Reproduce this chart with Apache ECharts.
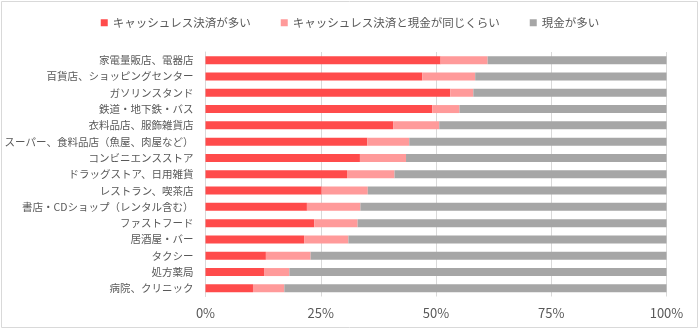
<!DOCTYPE html>
<html>
<head>
<meta charset="utf-8">
<script src="https://cdn.jsdelivr.net/npm/echarts@6/dist/echarts.min.js"></script>
<style>
  html, body { margin: 0; padding: 0; background: #fff; }
  #chart { width: 700px; height: 330px; }
</style>
</head>
<body>
<div id="chart"></div>
<script>
// Payment preference by type of shop (share of respondents, %)
const categories = [
  '家電量販店、電器店',
  '百貨店、ショッピングセンター',
  'ガソリンスタンド',
  '鉄道・地下鉄・バス',
  '衣料品店、服飾雑貨店',
  'スーパー、食料品店（魚屋、肉屋など）',
  'コンビニエンスストア',
  'ドラッグストア、日用雑貨',
  'レストラン、喫茶店',
  '書店・CDショップ（レンタル含む）',
  'ファストフード',
  '居酒屋・バー',
  'タクシー',
  '処方薬局',
  '病院、クリニック'
];
const seriesNames = ['キャッシュレス決済が多い', 'キャッシュレス決済と現金が同じくらい', '現金が多い'];
const cashlessMore = [51.0, 47.0, 53.1, 49.2, 40.7, 35.1, 33.5, 30.7, 25.2, 22.0, 23.6, 21.4, 13.1, 12.8, 10.3];
const aboutEqual   = [10.2, 11.5, 5.0, 5.9, 10.0, 9.1, 10.0, 10.3, 10.0, 11.6, 9.4, 9.6, 9.7, 5.4, 6.8];
const cashMore     = [38.8, 41.5, 41.9, 44.9, 49.3, 55.8, 56.5, 59.0, 64.8, 66.4, 67.0, 69.0, 77.2, 81.8, 82.9];
const xTicks = [0, 25, 50, 75, 100];

const colors = ['#FF4B4B', '#FF9A9A', '#A6A6A6'];
const font = '"Noto Sans CJK JP", "Noto Sans", sans-serif';

const chart = echarts.init(document.getElementById('chart'), null, { renderer: 'canvas' });

const values = [cashlessMore, aboutEqual, cashMore];
chart.setOption({
  animation: false,
  textStyle: { fontFamily: font },
  graphic: [{
    type: 'rect',
    shape: { x: 1.5, y: 1.5, width: 696, height: 326 },
    style: { fill: 'none', stroke: '#D9D9D9', lineWidth: 1 },
    silent: true
  }],
  legend: {
    top: 12,
    left: 'center',
    itemWidth: 7,
    itemHeight: 7,
    itemGap: 30,
    icon: 'rect',
    textStyle: { fontSize: 11.5, color: '#595959', fontFamily: font },
    data: seriesNames
  },
  grid: {
    left: 205.5, right: 33.5, top: 52, bottom: 33.5,
    containLabel: false,
    outerBoundsMode: 'none'
  },
  xAxis: {
    type: 'value',
    min: xTicks[0],
    max: xTicks[xTicks.length - 1],
    interval: 25,
    axisLine: { show: false },
    axisTick: { show: false },
    splitLine: { show: true, lineStyle: { color: '#D9D9D9', width: 1 } },
    axisLabel: {
      formatter: v => v + '%',
      color: '#595959',
      fontSize: 13,
      margin: 10,
      fontFamily: font
    }
  },
  yAxis: {
    type: 'category',
    inverse: true,
    data: categories,
    axisLine: { show: true, lineStyle: { color: '#D9D9D9' } },
    axisTick: { show: false },
    axisLabel: { color: '#595959', fontSize: 10.5, margin: 12, fontFamily: font }
  },
  series: seriesNames.map((name, i) => ({
    name: name,
    type: 'bar',
    stack: 'total',
    barWidth: 8,
    itemStyle: { color: colors[i] },
    data: values[i]
  }))
});
</script>
</body>
</html>
